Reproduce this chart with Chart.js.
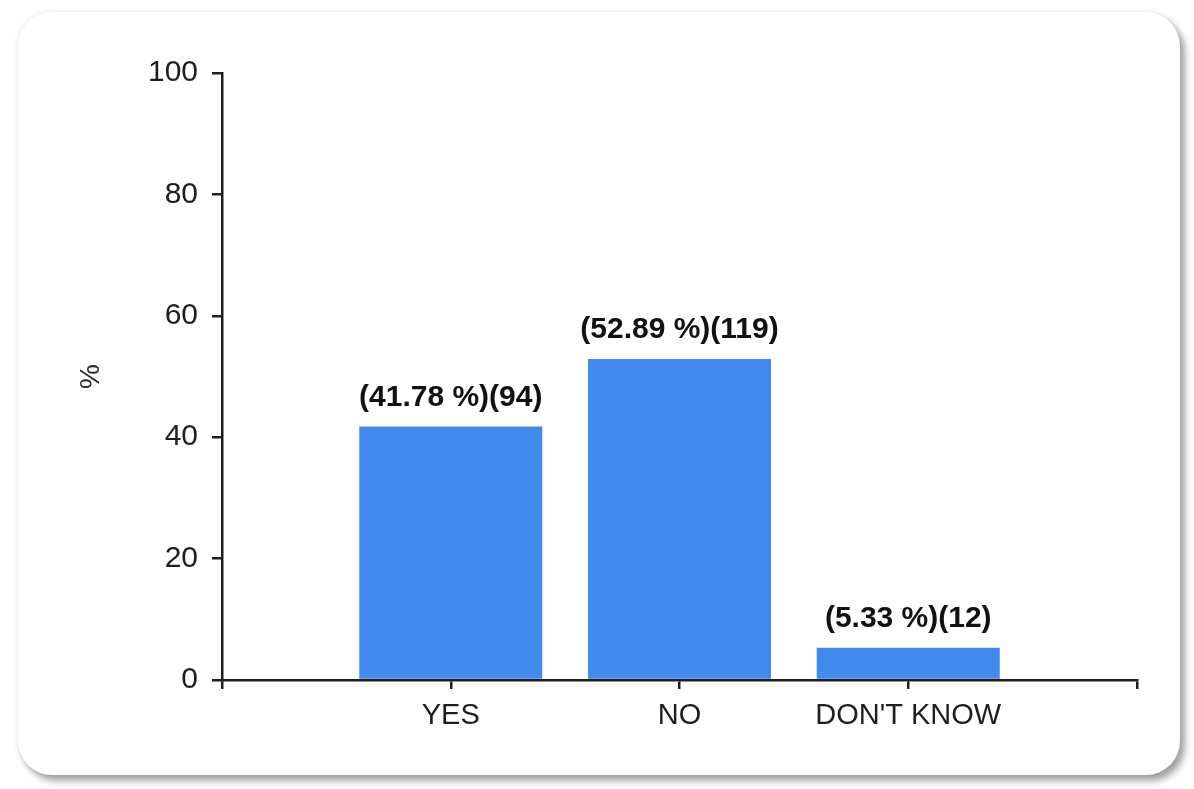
<!DOCTYPE html>
<html>
<head>
<meta charset="utf-8">
<script src="https://cdn.jsdelivr.net/npm/chart.js@4.4.0/dist/chart.umd.min.js"></script>
<style>
  html, body { margin: 0; padding: 0; background: #fff; }
  #wrap { position: relative; width: 1194px; height: 789px; overflow: hidden; }
  #panel {
    position: absolute; left: 18px; top: 12px; width: 1162px; height: 763px;
    background: #fff; border-radius: 34px;
    box-shadow: 0 0 6px rgba(0,0,0,0.10), 5px 6px 7px rgba(0,0,0,0.35);
  }
  #chart_1 { position: absolute; left: 0; top: 0; }
</style>
</head>
<body>
<div id="wrap">
  <div id="panel"></div>
  <canvas id="chart_1" width="1194" height="789"></canvas>
</div>
<script>
// answers, with empty slots at both ends of the axis
var categories = ['', 'YES', 'NO', "DON'T KNOW", ''];
var percents = [null, 41.78, 52.89, 5.33, null];
var counts = [null, 94, 119, 12, null];
var yTicks = [0, 20, 40, 60, 80, 100];

var axisColor = '#1e1e1e';
var fontFam = '"Liberation Sans", Arial, sans-serif';

// draws "(xx.xx %)(n)" above each bar
var barLabels = {
    id: 'barLabels',
    afterDatasetsDraw: function(chart) {
        var ctx = chart.ctx;
        var meta = chart.getDatasetMeta(0);
        ctx.save();
        ctx.font = 'bold 30px ' + fontFam;
        ctx.fillStyle = '#111';
        ctx.textAlign = 'center';
        ctx.textBaseline = 'bottom';
        meta.data.forEach(function(bar, i) {
            if (percents[i] == null) return;
            var txt = '(' + percents[i].toFixed(2) + ' %)(' + counts[i] + ')';
            ctx.fillText(txt, bar.x, bar.y - 14);
        });
        ctx.restore();
    }
};

var ctx = document.getElementById('chart_1').getContext('2d');
var myBarChart = new Chart(ctx, {
    type: 'bar',
    data: {
        labels: categories,
        datasets: [{
            data: percents,
            backgroundColor: '#428bec',
            borderWidth: 0,
            barPercentage: 0.8,
            categoryPercentage: 1.0
        }]
    },
    plugins: [barLabels],
    options: {
        responsive: false,
        animation: false,
        layout: { padding: { left: 70, top: 73, right: 57, bottom: 0 } },
        plugins: {
            legend: { display: false },
            tooltip: { enabled: false }
        },
        scales: {
            x: {
                offset: false,
                grid: { offset: false, drawOnChartArea: false, drawTicks: true, tickLength: 9, color: axisColor, lineWidth: 2.5 },
                border: { display: true, color: axisColor, width: 2.5 },
                ticks: {
                    color: '#1e1e1e',
                    padding: 10,
                    maxRotation: 0,
                    autoSkip: false,
                    font: { family: fontFam, size: 29 }
                },
                afterFit: function(scale) { scale.height = 109; }
            },
            y: {
                min: 0,
                max: 100,
                afterBuildTicks: function(scale) {
                    scale.ticks = yTicks.map(function(v) { return { value: v }; });
                },
                grid: { drawOnChartArea: false, drawTicks: true, tickLength: 10, color: axisColor, lineWidth: 2.5 },
                border: { display: true, color: axisColor, width: 2.5 },
                ticks: {
                    color: '#1e1e1e',
                    padding: 14,
                    font: { family: fontFam, size: 30 }
                },
                title: {
                    display: true,
                    text: '%',
                    color: '#2a2a2a',
                    font: { family: fontFam, size: 28 }
                },
                afterFit: function(scale) { scale.width = 152; }
            }
        }
    }
});
</script>
</body>
</html>
